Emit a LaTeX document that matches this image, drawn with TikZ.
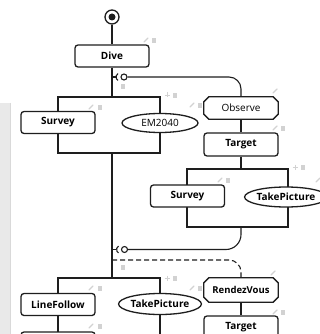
\documentclass[tikz,border=0pt]{standalone}
\usepackage{fontspec}
\setmainfont{Open Sans}
\usetikzlibrary{shapes.geometric}
\definecolor{ink}{HTML}{1E1E1E}
\definecolor{iconc}{HTML}{D2D2D2}
\definecolor{panel}{HTML}{E9E9E9}
\definecolor{paneledge}{HTML}{D9D9D9}
\tikzset{
  stepbox/.style={draw=ink, line width=1.3pt, rounded corners=3pt, minimum width=74pt, minimum height=22pt, inner sep=0pt, fill=white, font=\fontsize{10}{11}\selectfont\bfseries},
  octbox/.style={draw=none, minimum width=74pt, minimum height=22pt, inner sep=0pt, font=\fontsize{10}{11}\selectfont},
  octline/.style={draw=ink, line width=1.3pt, fill=white, line join=miter},
  actell/.style={ellipse, draw=ink, line width=1.3pt, minimum width=76pt, minimum height=19pt, inner sep=0pt, fill=white, font=\fontsize{10}{11}\selectfont},
  forkbox/.style={draw=ink, line width=1.1pt, inner sep=0pt},
  wire/.style={draw=ink, line width=1.1pt},
  ball/.style={circle, draw=ink, line width=1.1pt, fill=white, minimum size=6pt, inner sep=0pt},
  initc/.style={circle, draw=ink, line width=1.3pt, fill=white, minimum size=14pt, inner sep=0pt},
  pen/.pic={\draw[iconc, line width=1.4pt, line cap=round] (-2,2)--(2,-2);},
  bin/.pic={\fill[iconc] (-1.6,-1.2) rectangle (1.6,2.6); \fill[iconc] (-2.2,-2.4) rectangle (2.2,-1.7);},
  plusicon/.pic={\draw[iconc, line width=0.9pt] (-2.5,0)--(2.5,0) (0,-2.5)--(0,2.5);}
}
\newcommand{\octframe}[1]{%
  \path[octline] ([xshift=5pt]#1.north west) -- ([xshift=-5pt]#1.north east) -- ([yshift=-5pt]#1.north east) -- ([yshift=5pt]#1.south east) -- ([xshift=-5pt]#1.south east) -- ([xshift=5pt]#1.south west) -- ([yshift=5pt]#1.south west) -- ([yshift=-5pt]#1.north west) -- cycle;}
\begin{document}
\begin{tikzpicture}[x=1pt,y=-1pt]
\clip (0,0) rectangle (320,334);
\fill[white] (0,0) rectangle (320,334);
% side panel
\fill[panel] (0,103) rectangle (10,334);
\draw[paneledge, line width=0.6pt] (10,103) -- (10,334);
% faint icons
\pic at (146,40) {pen}; \pic at (154,40) {bin};
\pic at (123,86) {bin};
\pic at (91,107) {pen}; \pic at (100,107) {bin};
\pic at (167,95) {plusicon}; \pic at (175,95) {bin};
\pic at (192,105) {pen}; \pic at (200,105) {bin};
\pic at (275,91) {pen};
\pic at (275,128) {pen}; \pic at (283,128) {bin};
\pic at (295,167) {plusicon}; \pic at (303,167) {bin};
\pic at (220,180) {pen}; \pic at (228,180) {bin};
\pic at (318,180) {pen};
\pic at (273,273) {pen};
\pic at (275,312) {pen}; \pic at (283,312) {bin};
\pic at (123,267) {bin};
\pic at (167,278) {plusicon}; \pic at (175,278) {bin};
\pic at (91,288) {pen}; \pic at (100,288) {bin};
\pic at (192,288) {pen}; \pic at (200,288) {bin};
\pic at (91,326) {pen}; \pic at (100,326) {bin};
% fork groups
\node[forkbox, minimum width=102pt, minimum height=56pt] (fork1) at (109,125) {};
\node[forkbox, minimum width=101pt, minimum height=58pt] (fork2) at (237.5,198) {};
\node[forkbox, minimum width=102pt, minimum height=64pt] (fork3) at (109,310) {};
% nodes
\node[initc] (init) at (112,17) {};
\fill[ink] (init) circle (3.5pt);
\node[stepbox] (dive) at (112,56) {Dive};
\node[stepbox] (survey) at (58,122.5) {Survey};
\node[actell] (em) at (160,123) {EM2040};
\node[octbox] (observe) at (241,108) {};
\octframe{observe}
\node[octbox] at (observe) {Observe};
\node[stepbox, minimum height=23pt] (target) at (241,144.5) {Target};
\node[stepbox] (survey2) at (187.5,196) {Survey};
\node[actell, minimum width=66pt, minimum height=20pt, font=\fontsize{10}{11}\selectfont\bfseries] (take1) at (286,197) {TakePicture};
\node[octbox, minimum height=24pt] (rv) at (241,290) {};
\octframe{rv}
\node[octbox, font=\fontsize{9.5}{11}\selectfont\bfseries] at (rv) {RendezVous};
\node[stepbox, minimum height=23pt] (target2) at (241,327.5) {Target};
\node[stepbox] (lf) at (58,304.5) {LineFollow};
\node[actell, minimum width=74pt, minimum height=21pt, font=\fontsize{10}{11}\selectfont\bfseries] (take2) at (160,304) {TakePicture};
\node[stepbox, minimum height=23pt] (bot) at (58,343.5) {};
\node[ball] (b1) at (124,77) {};
\node[ball] (b2) at (124.5,249.5) {};
\coordinate (s1) at (112,77);
\coordinate (s2) at (112,249.5);
\coordinate (d1) at (112,260);
% connectors
\draw[wire] (init) -- (dive);
\draw[wire] (dive.south) -- (dive.south |- fork1.north);
\draw[wire] (fork1.south -| dive.south) -- (fork3.north -| dive.south);
\draw[wire] (s1) -- ++(4,0);
\draw[wire] (118,73.54) arc[start angle=120, end angle=240, radius=4pt];
\draw[wire, rounded corners=12pt] (b1.east) -| (observe.north);
\draw[wire] (observe) -- (target);
\draw[wire] (target.south) -- (target.south |- fork2.north);
\draw[wire] (s2) -- ++(4,0);
\draw[wire] (118.5,246.04) arc[start angle=120, end angle=240, radius=4pt];
\draw[wire, rounded corners=15pt] (fork2.south -| target.south) |- (b2.east);
\draw[wire, dash pattern=on 5pt off 3pt, rounded corners=12pt] (d1) -| (rv.north);
\draw[wire] (rv) -- (target2);
\draw[wire] (lf) -- (bot);
\end{tikzpicture}
\end{document}
